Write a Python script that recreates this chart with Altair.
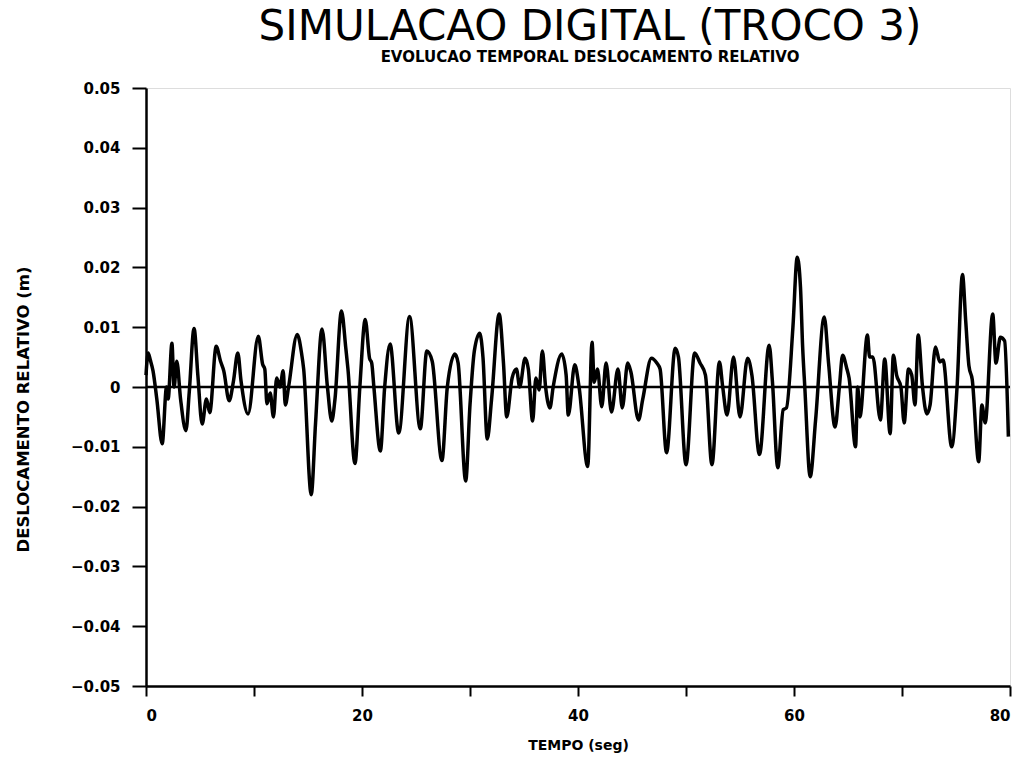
import altair as alt
import pandas as pd

# time (s)
t = [0, 0.2, 0.4, 0.65, 1.0, 1.5, 1.9, 2.05, 2.4, 2.6, 2.85, 3.2, 3.7, 4.0, 4.45, 4.8,
     5.2, 5.6, 5.9, 6.5, 6.9, 7.2, 7.7, 8.1, 8.5, 8.8, 9.45, 10.4, 10.8, 11.0, 11.2, 11.5,
     11.8, 12.1, 12.4, 12.7, 12.9, 13.2, 14.0, 14.4, 14.6, 15.3, 15.7, 16.3, 16.8, 17.2,
     17.5, 18.1, 18.5, 18.7, 19.35, 19.8, 20.3, 20.7, 20.9, 21.1, 21.7, 22.1, 22.6, 23.4,
     24.4, 25.4, 26.0, 26.5, 27.4, 27.9, 28.6, 28.9, 29.6, 30.0, 30.4, 30.9, 31.2, 31.6,
     32.0, 32.7, 33.1, 33.4, 33.9, 34.3, 34.6, 35.1, 35.4, 35.8, 36.1, 36.4, 36.7, 37.0,
     37.4, 37.7, 38.5, 38.9, 39.1, 39.7, 40.1, 40.9, 41.3, 41.5, 41.8, 42.2, 42.6, 43.1,
     43.7, 44.1, 44.6, 44.9, 45.6, 46.0, 46.8, 47.3, 47.6, 48.2, 49.0, 49.3, 50.0, 50.8,
     51.3, 51.8, 52.4, 53.1, 53.4, 53.8, 54.4, 55.0, 55.7, 56.1, 56.8, 57.7, 58.0, 58.5,
     59.0, 59.3, 59.9, 60.3, 60.6, 60.8, 61.0, 61.5, 62.0, 62.8, 63.2, 63.8, 64.2, 64.5,
     64.9, 65.1, 65.7, 65.9, 66.1, 66.8, 67.0, 67.3, 68.0, 68.4, 68.9, 69.2, 69.5, 69.9,
     70.2, 70.6, 70.9, 71.2, 71.5, 71.9, 72.3, 72.6, 73.1, 73.5, 73.8, 74.6, 75.1, 75.6,
     75.9, 76.2, 76.5, 77.1, 77.4, 77.7, 78.4, 78.7, 79.1, 79.5, 79.85]

# relative displacement (m)
d = [0.002, 0.0057, 0.0045, 0.0027, -0.002, -0.0095, 0.0, -0.002, 0.0073, 0.0, 0.0043,
     -0.002, -0.0073, -0.001, 0.0098, 0.002, -0.0062, -0.002, -0.0043, 0.0068, 0.0043,
     0.0027, -0.0023, 0.001, 0.0057, 0.001, -0.0045, 0.0085, 0.0038, 0.003, -0.0028,
     -0.001, -0.005, 0.0015, 0.0, 0.0027, -0.003, 0.0, 0.0088, 0.0057, 0.003, -0.018,
     -0.006, 0.0097, 0.0, -0.0057, -0.002, 0.0127, 0.0065, 0.003, -0.0128, 0.0, 0.0113,
     0.0048, 0.004, 0.0, -0.0107, 0.0, 0.0072, -0.0077, 0.0118, -0.007, 0.006, 0.0043,
     -0.0123, 0.0, 0.0055, 0.004, -0.0157, -0.003, 0.006, 0.009, 0.005, -0.0087, -0.002,
     0.0122, 0.004, -0.005, 0.0015, 0.003, 0.0, 0.0048, 0.003, -0.0057, 0.0015, -0.0005,
     0.006, 0.0, -0.0035, 0.0, 0.0055, 0.002, -0.0047, 0.0037, 0.0, -0.0133, 0.0075,
     0.0008, 0.003, -0.0033, 0.004, -0.0042, 0.003, -0.0035, 0.004, 0.0025, -0.0055,
     -0.002, 0.0048, 0.004, 0.003, -0.011, 0.0065, 0.005, -0.013, 0.0057, 0.004, 0.002,
     -0.013, 0.0042, 0.0, -0.0047, 0.005, -0.005, 0.0048, 0.002, -0.0113, 0.007, 0.001,
     -0.0135, -0.0038, -0.0035, 0.01, 0.0217, 0.0167, 0.0067, 0.0, -0.015, -0.0055,
     0.0117, 0.004, -0.0067, 0.0, 0.0053, 0.003, 0.0015, -0.01, 0.0, -0.005, 0.0087,
     0.005, 0.005, -0.0055, 0.0047, -0.0078, 0.0053, 0.002, 0.0, -0.006, 0.003, 0.002,
     -0.003, 0.0087, 0.0, -0.0045, -0.003, 0.0067, 0.0042, 0.0045, -0.01, 0.0, 0.0188,
     0.011, 0.0035, 0.0013, -0.0125, -0.003, -0.006, 0.0122, 0.004, 0.0083, 0.0077,
     -0.0083]

x_ticks = [0, 10, 20, 30, 40, 50, 60, 70, 80]
y_ticks = [-0.05, -0.04, -0.03, -0.02, -0.01, 0, 0.01, 0.02, 0.03, 0.04, 0.05]

df = pd.DataFrame({"t": t, "d": d})
zero_df = pd.DataFrame({"y": [0]})

FONT = "DejaVu Sans"

x_enc = alt.X(
    "t:Q",
    scale=alt.Scale(domain=[0, 80], nice=False, zero=False),
    axis=alt.Axis(
        values=x_ticks,
        labelExpr="datum.value % 20 == 0 ? datum.label : ''",
        title="TEMPO (seg)",
        titleFont=FONT, titleFontSize=14, titleFontWeight="bold",
        titleY=52, titleBaseline="top",
        labelFont=FONT, labelFontSize=15, labelFontWeight="bold",
        labelPadding=12, tickSize=10, tickWidth=2, domainWidth=2.5,
        tickColor="black", domainColor="black", labelColor="black", titleColor="black",
        grid=False,
    ),
)
y_enc = alt.Y(
    "d:Q",
    scale=alt.Scale(domain=[-0.05, 0.05], nice=False, zero=False),
    axis=alt.Axis(
        values=y_ticks,
        labelExpr="abs(datum.value) < 1e-9 ? '0' : format(datum.value, '.2f')",
        title="DESLOCAMENTO RELATIVO (m)",
        titleFont=FONT, titleFontSize=16.5, titleFontWeight="bold",
        titleX=-118, titleY=321, titleAngle=-90, titleBaseline="alphabetic",
        labelFont=FONT, labelFontSize=15, labelFontWeight="bold",
        labelPadding=12, tickSize=14, tickWidth=2, domainWidth=2.5,
        tickColor="black", domainColor="black", labelColor="black", titleColor="black",
        grid=False,
    ),
)

line = alt.Chart(df).mark_line(
    color="black", strokeWidth=3.5, interpolate="monotone"
).encode(x=x_enc, y=y_enc)

zero = alt.Chart(zero_df).mark_rule(color="black", strokeWidth=2.5).encode(y="y:Q")

chart = alt.layer(line, zero).properties(
    width=864,
    height=598,
    autosize=alt.AutoSizeParams(type="none"),
    padding={"left": 146, "top": 88, "right": 12, "bottom": 79},
    title=alt.TitleParams(
        text="SIMULACAO DIGITAL (TROCO 3)",
        subtitle="EVOLUCAO TEMPORAL DESLOCAMENTO RELATIVO",
        font=FONT, fontSize=42, fontWeight="normal", color="black",
        subtitleFont=FONT, subtitleFontSize=15, subtitleFontWeight="bold",
        subtitleColor="black", subtitlePadding=1,
        anchor="middle", offset=15, dx=12,
    ),
).configure_view(stroke="black", strokeWidth=2.5).configure(background="white")

chart.save("out.html", embed_options={"renderer": "svg", "actions": False})
